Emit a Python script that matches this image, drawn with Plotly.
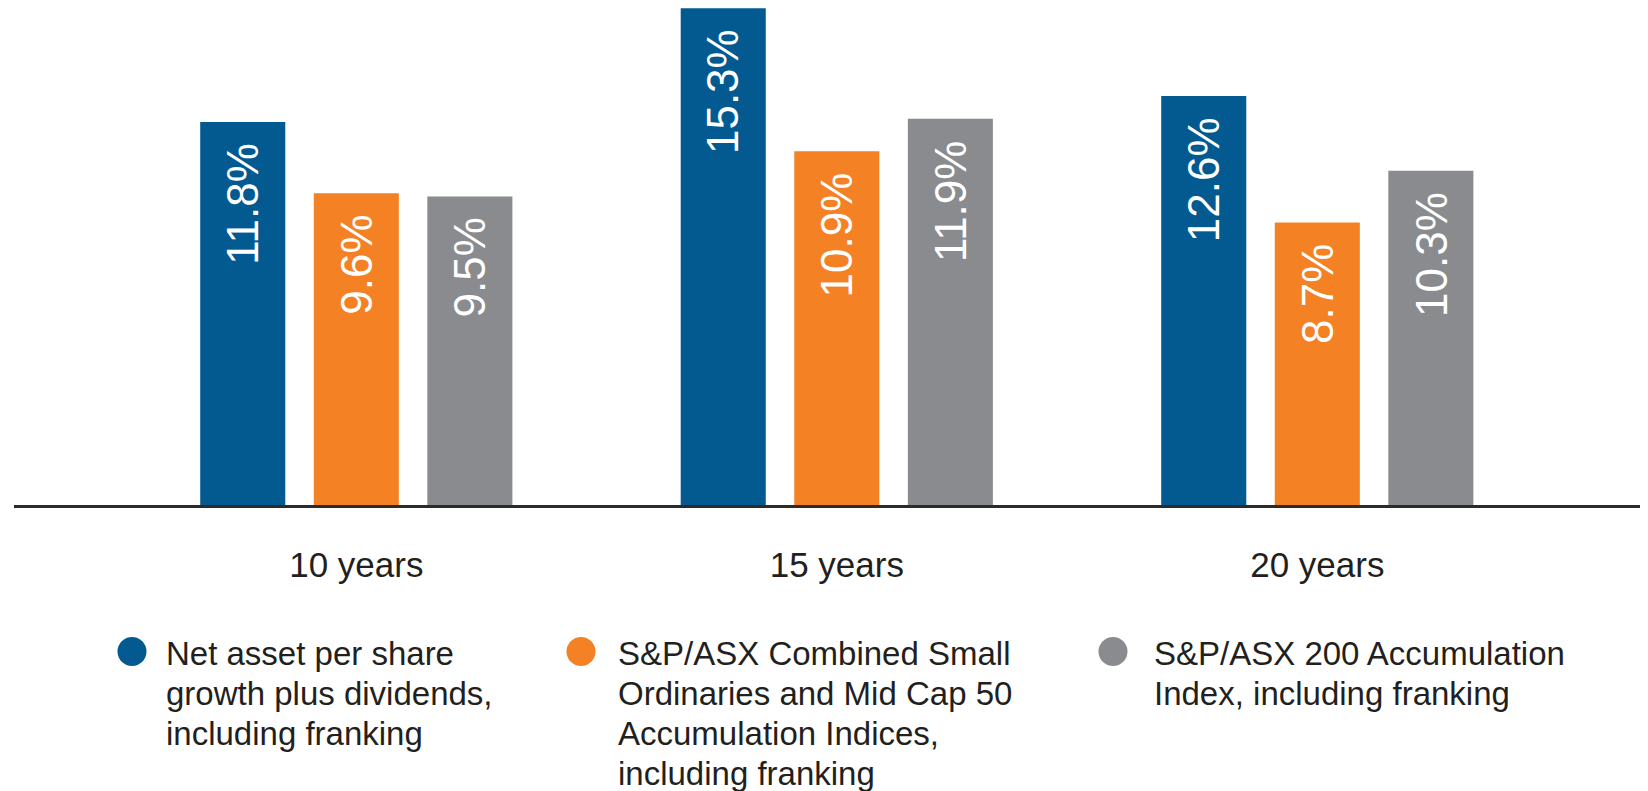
import plotly.graph_objects as go

# ---- data ----
periods = ["10 years", "15 years", "20 years"]
series_names = [
    "Net asset per share growth plus dividends, including franking",
    "S&P/ASX Combined Small Ordinaries and Mid Cap 50 Accumulation Indices, including franking",
    "S&P/ASX 200 Accumulation Index, including franking",
]
legend_lines = [
    ["Net asset per share", "growth plus dividends,", "including franking"],
    ["S&P/ASX Combined Small", "Ordinaries and Mid Cap 50", "Accumulation Indices,", "including franking"],
    ["S&P/ASX 200 Accumulation", "Index, including franking"],
]
net_asset = [11.8, 15.3, 12.6]
small_mid = [9.6, 10.9, 8.7]
asx200 = [9.5, 11.9, 10.3]
values = [net_asset, small_mid, asx200]
colors = ["#035a91", "#f48123", "#898b8e"]

# ---- layout geometry ----
# the page body has an 8px margin, so the figure is sized to the window minus it
OFF = 8
W, H = 1648 - OFF, 791 - OFF
ML, MR, MT, MB = 14 - OFF, 0, 0, H - (505 - OFF)
PW, PH = W - ML - MR, H - MT - MB
BARGAP = 0.291
BARGROUPGAP = 0.251
TEXT = "#231f20"
FONT = "Liberation Sans, Arial, sans-serif"

def px_x(page_px):
    return (page_px - OFF - ML) / PW

def px_y(page_py):
    return (H - MB - (page_py - OFF)) / PH

fig = go.Figure()
for name, vals, col in zip(series_names, values, colors):
    fig.add_trace(go.Bar(
        x=periods, y=vals, name=name,
        marker=dict(color=col, line=dict(width=0)),
        showlegend=False,
        hovertemplate="%{x}: %{y:.1f}%<extra></extra>",
    ))

# value labels inside bars (rotated), positioned via the axes
slot = (1 - BARGAP) / len(values)
annotations = []
for j, vals in enumerate(values):
    for i, v in enumerate(vals):
        annotations.append(dict(
            x=i + (j - (len(values) - 1) / 2) * slot, y=v,
            xref="x", yref="y", text=f"{v:.1f}%", showarrow=False,
            textangle=-90, xanchor="center", yanchor="top", yshift=-19,
            font=dict(family=FONT, size=44, color="white"),
        ))

# custom legend: circles + text lines (page pixel positions)
circle_cx = [132, 581, 1113]
text_x = [164, 616, 1152]
circle_cy = 651.5
r = 14.5
first_cap_top = 642
line_step = 40
fs_leg = 33
shapes = []
for k, col in enumerate(colors):
    shapes.append(dict(
        type="circle", xref="paper", yref="paper",
        x0=px_x(circle_cx[k] - r), x1=px_x(circle_cx[k] + r),
        y0=px_y(circle_cy + r), y1=px_y(circle_cy - r),
        fillcolor=col, line=dict(width=0),
    ))
    for li, line in enumerate(legend_lines[k]):
        cy = first_cap_top + li * line_step + 0.36 * fs_leg
        annotations.append(dict(
            x=px_x(text_x[k]), y=px_y(cy), xref="paper", yref="paper",
            text=line, showarrow=False, xanchor="left", yanchor="middle",
            font=dict(family=FONT, size=fs_leg, color=TEXT),
        ))

# x range so that group centres sit at page x = 356.3 + 480.5*i
unit = 480.5
x0 = -((356.3 - OFF) - ML) / unit
x1 = x0 + PW / unit

fig.update_layout(
    width=W, height=H,
    margin=dict(l=ML, r=MR, t=MT, b=MB, pad=0),
    barmode="group", bargap=BARGAP, bargroupgap=BARGROUPGAP,
    plot_bgcolor="white", paper_bgcolor="white",
    font=dict(family=FONT, color=TEXT),
    xaxis=dict(
        type="category", range=[x0, x1],
        showline=True, linecolor="#2b2b2b", linewidth=3,
        ticks="", showgrid=False, zeroline=False,
        tickfont=dict(family=FONT, size=35, color=TEXT),
        ticklabelstandoff=27,
    ),
    yaxis=dict(
        range=[0, 15.31], visible=False, showgrid=False, zeroline=False,
    ),
    annotations=annotations,
    shapes=shapes,
    showlegend=False,
)

fig.write_html("out.html")
